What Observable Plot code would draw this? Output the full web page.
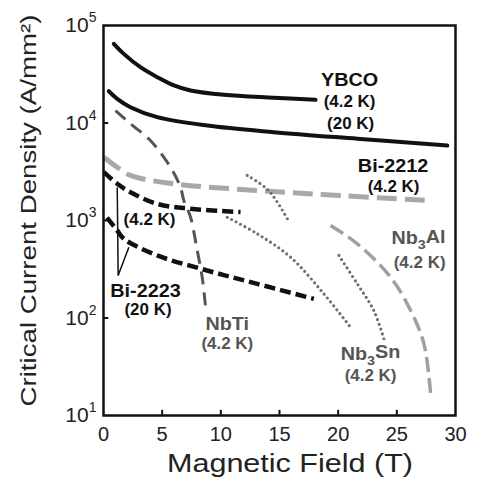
<!DOCTYPE html>
<html><head><meta charset="utf-8">
<script src="https://cdn.jsdelivr.net/npm/d3@7"></script>
<script src="https://cdn.jsdelivr.net/npm/@observablehq/plot@0.6"></script>
<style>body{margin:0;background:#fff;} svg{display:block}</style>
</head><body><div id="chart"></div>
<script>
// Axis ticks
const xTicks = [0, 5, 10, 15, 20, 25, 30];
const yTicks = [10, 100, 1000, 10000, 100000];
const xInnerTicks = [5, 10, 15, 20, 25];
const yInnerTicks = [100, 1000, 10000];

// Series: magnetic field (T) and critical current density (A/mm^2)
const ybco42X = [0.88, 1.73, 3.15, 4.58, 6.0, 7.42, 10.26, 14.5, 18.07];
const ybco42Y = [64860, 51170, 37330, 29510, 24270, 21530, 19450, 18160, 17300];
const ybco20X = [0.45, 1.17, 2.3, 4.58, 8.84, 14.52, 21.63, 29.3];
const ybco20Y = [21180, 17700, 14520, 11480, 9420, 8050, 6890, 5870];
const nbtiX = [1.02, 2.3, 4.0, 5.71, 6.56, 6.85, 7.42, 7.99, 8.41, 8.70];
const nbtiY = [13430, 9820, 6620, 3520, 2200, 1600, 1080, 492, 262, 129];
const bi2212X = [0.03, 1.17, 2.3, 5.99, 13.1, 20.2, 27.88];
const bi2212Y = [4460, 3520, 2900, 2380, 2030, 1800, 1600];
const bi2223_42X = [0.03, 1.17, 2.3, 4.58, 7.42, 11.68];
const bi2223_42Y = [3130, 2380, 1950, 1480, 1320, 1220];
const bi2223_20X = [0.3, 1.17, 1.73, 4.58, 8.84, 13.1, 17.93];
const bi2223_20Y = [1070, 790, 650, 438, 307, 224, 157];
const nb3snAX = [12.25, 14.07, 15.8];
const nb3snAY = [2900, 2030, 977];
const nb3snBX = [10.55, 13.1, 15.94, 18.78, 21.05];
const nb3snBY = [1080, 731, 421, 177, 80.5];
const nb3snCX = [20.06, 21.63, 23.04, 23.9];
const nb3snCY = [438, 224, 119, 61];
const nb3alX = [19.35, 21.63, 24.47, 26.18, 27.31, 27.88];
const nb3alY = [889, 577, 262, 119, 54.3, 16.7];

// Annotations
const nameText = ["YBCO", "Bi-2212", "Bi-2223", "NbTi", "Nb3Sn", "Nb3Al"];
const nameX = [20.97, 24.68, 3.58, 10.55, 22.76, 26.85];
const nameY = [27300, 3620, 187, 85.7, 42.3, 653];
const tempText = ["(4.2 K)", "(20 K)", "(4.2 K)", "(4.2 K)", "(20 K)", "(4.2 K)", "(4.2 K)", "(4.2 K)"];
const tempX = [20.97, 21.06, 24.72, 3.92, 3.79, 10.55, 22.76, 26.94];
const tempY = [16600, 9890, 2230, 1020, 122, 54.7, 25.7, 366];
const arrowX1 = [1.25, 1.25];
const arrowY1 = [273, 273];
const arrowX2 = [1.17, 2.16];
const arrowY2 = [2178, 532];

const zip = (xs, ys) => xs.map((x, i) => ({x, y: ys[i]}));
const names = nameText.map((t, i) => ({t, x: nameX[i], y: nameY[i]}));
const temps = tempText.map((t, i) => ({t, x: tempX[i], y: tempY[i]}));
const arrows = arrowX1.map((x1, i) => ({x1, y1: arrowY1[i], x2: arrowX2[i], y2: arrowY2[i]}));
const darkName = new Set(["YBCO", "Bi-2212", "Bi-2223"]);
const darkTemp = [true, true, true, true, true, false, false, false];

const line = (xs, ys, o) => Plot.line(zip(xs, ys), {x: "x", y: "y", curve: "catmull-rom", ...o});

const chart = Plot.plot({
  width: 477, height: 486,
  marginTop: 25, marginRight: 22, marginBottom: 71, marginLeft: 103,
  style: {fontFamily: "'Liberation Sans', Arial, sans-serif", fontSize: "20px", background: "#fff", color: "#222"},
  x: {domain: [0, 30]},
  y: {type: "log", domain: [10, 1e5]},
  marks: [
    Plot.axisX({ticks: xTicks, tickSize: 0, tickPadding: 11, label: null, tickFormat: d => String(d), fontSize: 20, fill: "#222"}),
    Plot.axisY({ticks: yTicks, tickSize: 0, tickPadding: 7, label: null, tickFormat: d => "10^" + Math.round(Math.log10(d)), fontSize: 21, fill: "#222"}),
    Plot.ruleY(yInnerTicks, {y: d => d, x1: 0, x2: 0.45, stroke: "#111", strokeWidth: 2}),
    Plot.ruleX(xInnerTicks, {x: d => d, y1: 10, y2: 11.3, stroke: "#111", strokeWidth: 2}),
    line(bi2212X, bi2212Y, {stroke: "#a8a8a8", strokeWidth: 5, strokeDasharray: "20,8", strokeLinecap: "butt"}),
    line(nb3alX, nb3alY, {stroke: "#a0a0a0", strokeWidth: 3.5, strokeDasharray: "15,6", strokeLinecap: "butt"}),
    line(nb3snAX, nb3snAY, {stroke: "#707070", strokeWidth: 3.2, strokeDasharray: "0,5", strokeLinecap: "round"}),
    line(nb3snBX, nb3snBY, {stroke: "#707070", strokeWidth: 3.2, strokeDasharray: "0,5", strokeLinecap: "round"}),
    line(nb3snCX, nb3snCY, {stroke: "#707070", strokeWidth: 3.2, strokeDasharray: "0,5", strokeLinecap: "round"}),
    line(nbtiX, nbtiY, {stroke: "#555", strokeWidth: 3, strokeDasharray: "13,8", strokeLinecap: "butt"}),
    line(bi2223_42X, bi2223_42Y, {stroke: "#111", strokeWidth: 4.5, strokeDasharray: "11,5", strokeLinecap: "butt"}),
    line(bi2223_20X, bi2223_20Y, {stroke: "#111", strokeWidth: 4.5, strokeDasharray: "11,5", strokeLinecap: "butt"}),
    line(ybco42X, ybco42Y, {stroke: "#111", strokeWidth: 4, strokeLinecap: "round"}),
    line(ybco20X, ybco20Y, {stroke: "#111", strokeWidth: 4, strokeLinecap: "round"}),
    Plot.link(arrows, {x1: "x1", y1: "y1", x2: "x2", y2: "y2", stroke: "#111", strokeWidth: 1.5}),
    Plot.text(names, {x: "x", y: "y", text: "t", fontSize: 18, fontWeight: "bold", fill: d => darkName.has(d.t) ? "#111" : "#555", className: "lbl-name"}),
    Plot.text(temps, {x: "x", y: "y", text: "t", fontSize: 16, fontWeight: "bold", fill: (d, i) => darkTemp[i] ? "#111" : "#555", className: "lbl-temp"}),
    Plot.frame({stroke: "#111", strokeWidth: 2.5})
  ]
});

document.getElementById("chart").appendChild(chart);
const svg = d3.select(chart);

// superscripts / subscripts
svg.selectAll("text").each(function() {
  const t = this.textContent;
  let m = t.match(/^10\^(\d)$/);
  if (m) {
    const el = d3.select(this);
    el.text("10");
    el.append("tspan").attr("dy", "-0.7em").attr("font-size", "14px").text(m[1]);
    return;
  }
  m = t.match(/^Nb3(\w+)$/);
  if (m) {
    const el = d3.select(this);
    el.text("Nb");
    el.append("tspan").attr("dy", "0.35em").attr("font-size", "13px").text("3");
    el.append("tspan").attr("dy", "-0.35em").text(m[1]);
  }
});

// the original lettering is slightly wider than Arial: stretch labels horizontally
const stretch = (sel, k) => sel.each(function() {
  const len = this.getComputedTextLength();
  if (len > 0) d3.select(this).attr("textLength", len * k).attr("lengthAdjust", "spacingAndGlyphs");
});
stretch(svg.selectAll(".lbl-name text"), 1.1);
stretch(svg.selectAll(".lbl-temp text"), 1.06);

// axis titles
svg.append("text")
  .attr("transform", "translate(36,210.5) rotate(-90)")
  .attr("text-anchor", "middle")
  .attr("font-size", 22)
  .attr("fill", "#222")
  .attr("textLength", 392)
  .attr("lengthAdjust", "spacingAndGlyphs")
  .text("Critical Current Density (A/mm²)");
svg.append("text")
  .attr("x", 290).attr("y", 472)
  .attr("text-anchor", "middle")
  .attr("font-size", 25.5)
  .attr("fill", "#222")
  .attr("textLength", 246)
  .attr("lengthAdjust", "spacingAndGlyphs")
  .text("Magnetic Field (T)");
</script></body></html>
